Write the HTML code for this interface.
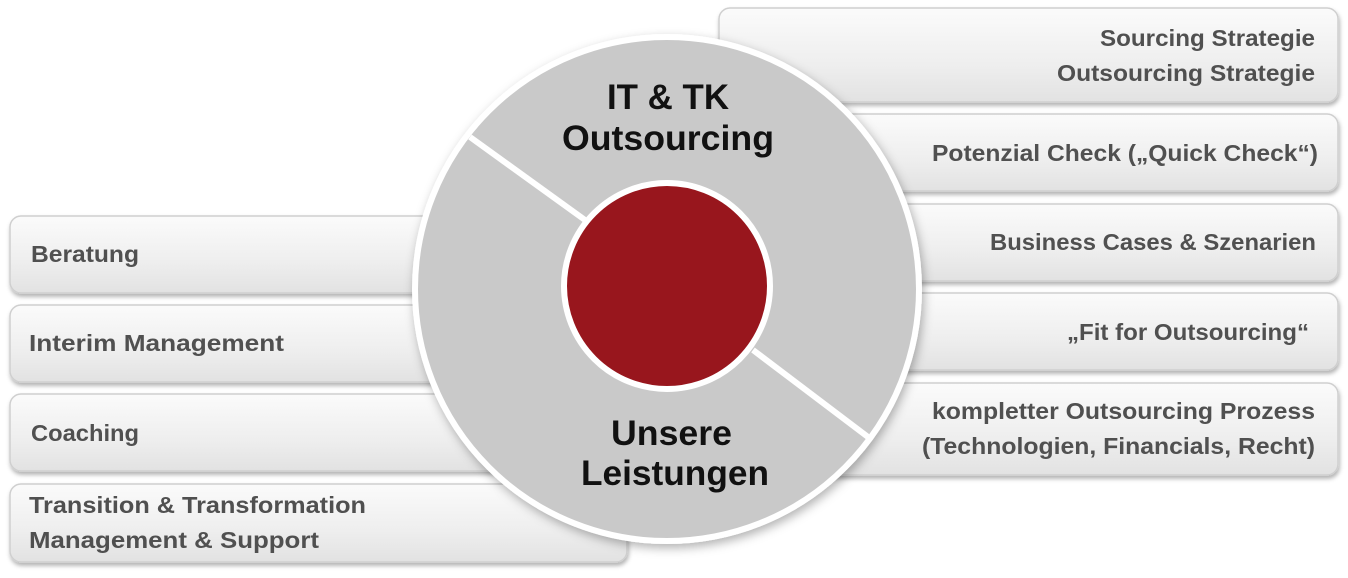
<!DOCTYPE html>
<html><head><meta charset="utf-8"><style>
html,body{margin:0;padding:0;background:#fff;width:1348px;height:578px;overflow:hidden}
svg{display:block}
text{font-family:"Liberation Sans",sans-serif;font-weight:bold}
.b{font-size:23px;fill:#505050}
.c{font-size:35px;fill:#111}
</style></head><body>
<svg width="1348" height="578" viewBox="0 0 1348 578">
<defs>
<linearGradient id="g" x1="0" y1="0" x2="0" y2="1">
<stop offset="0" stop-color="#fbfbfb"/><stop offset="0.6" stop-color="#eeeeee"/><stop offset="1" stop-color="#e2e2e2"/>
</linearGradient>
<filter id="s" x="-5%" y="-20%" width="110%" height="150%"><feDropShadow dx="1" dy="3" stdDeviation="2" flood-color="#000" flood-opacity="0.3"/></filter>
<filter id="s2" x="-10%" y="-10%" width="120%" height="120%"><feDropShadow dx="2" dy="4" stdDeviation="5" flood-color="#000" flood-opacity="0.3"/></filter>
</defs>
<g fill="url(#g)" stroke="#cfcfcf" stroke-width="1.5" filter="url(#s)">
<rect x="719" y="8" width="619" height="94" rx="11"/>
<rect x="719" y="114" width="619" height="77" rx="11"/>
<rect x="719" y="204" width="619" height="77" rx="11"/>
<rect x="719" y="293" width="619" height="77" rx="11"/>
<rect x="719" y="383" width="619" height="92" rx="11"/>
<rect x="10" y="216" width="560" height="77" rx="11"/>
<rect x="10" y="305" width="560" height="77" rx="11"/>
<rect x="10" y="394" width="560" height="77" rx="11"/>
<rect x="10" y="484" width="617" height="78" rx="11"/>
</g>
<g class="b" lengthAdjust="spacingAndGlyphs">
<text x="1100" y="46" textLength="215" lengthAdjust="spacingAndGlyphs">Sourcing Strategie</text>
<text x="1057" y="81" textLength="258" lengthAdjust="spacingAndGlyphs">Outsourcing Strategie</text>
<text x="932" y="161" textLength="386" lengthAdjust="spacingAndGlyphs">Potenzial Check („Quick Check“)</text>
<text x="990" y="250" textLength="326" lengthAdjust="spacingAndGlyphs">Business Cases &amp; Szenarien</text>
<text x="1067" y="340" textLength="242" lengthAdjust="spacingAndGlyphs">„Fit for Outsourcing“</text>
<text x="932" y="419" textLength="383" lengthAdjust="spacingAndGlyphs">kompletter Outsourcing Prozess</text>
<text x="922" y="454" textLength="393" lengthAdjust="spacingAndGlyphs">(Technologien, Financials, Recht)</text>
<text x="31" y="262" textLength="108" lengthAdjust="spacingAndGlyphs">Beratung</text>
<text x="29" y="351" textLength="255" lengthAdjust="spacingAndGlyphs">Interim Management</text>
<text x="31" y="441" textLength="108" lengthAdjust="spacingAndGlyphs">Coaching</text>
<text x="29" y="513" textLength="337" lengthAdjust="spacingAndGlyphs">Transition &amp; Transformation</text>
<text x="29" y="548" textLength="290" lengthAdjust="spacingAndGlyphs">Management &amp; Support</text>
</g>
<circle cx="667" cy="289" r="252" fill="#c9c9c9" stroke="#fff" stroke-width="6" filter="url(#s2)"/>
<line x1="470" y1="137" x2="585" y2="220" stroke="#fff" stroke-width="6"/>
<line x1="753" y1="350" x2="868" y2="437" stroke="#fff" stroke-width="6"/>
<circle cx="667" cy="286" r="103" fill="#98161d" stroke="#fff" stroke-width="6"/>
<g class="c">
<text x="607" y="109" textLength="122" lengthAdjust="spacingAndGlyphs">IT &amp; TK</text>
<text x="562" y="150" textLength="212" lengthAdjust="spacingAndGlyphs">Outsourcing</text>
<text x="611" y="445" textLength="121" lengthAdjust="spacingAndGlyphs">Unsere</text>
<text x="581" y="485" textLength="188" lengthAdjust="spacingAndGlyphs">Leistungen</text>
</g>
</svg>
</body></html>
